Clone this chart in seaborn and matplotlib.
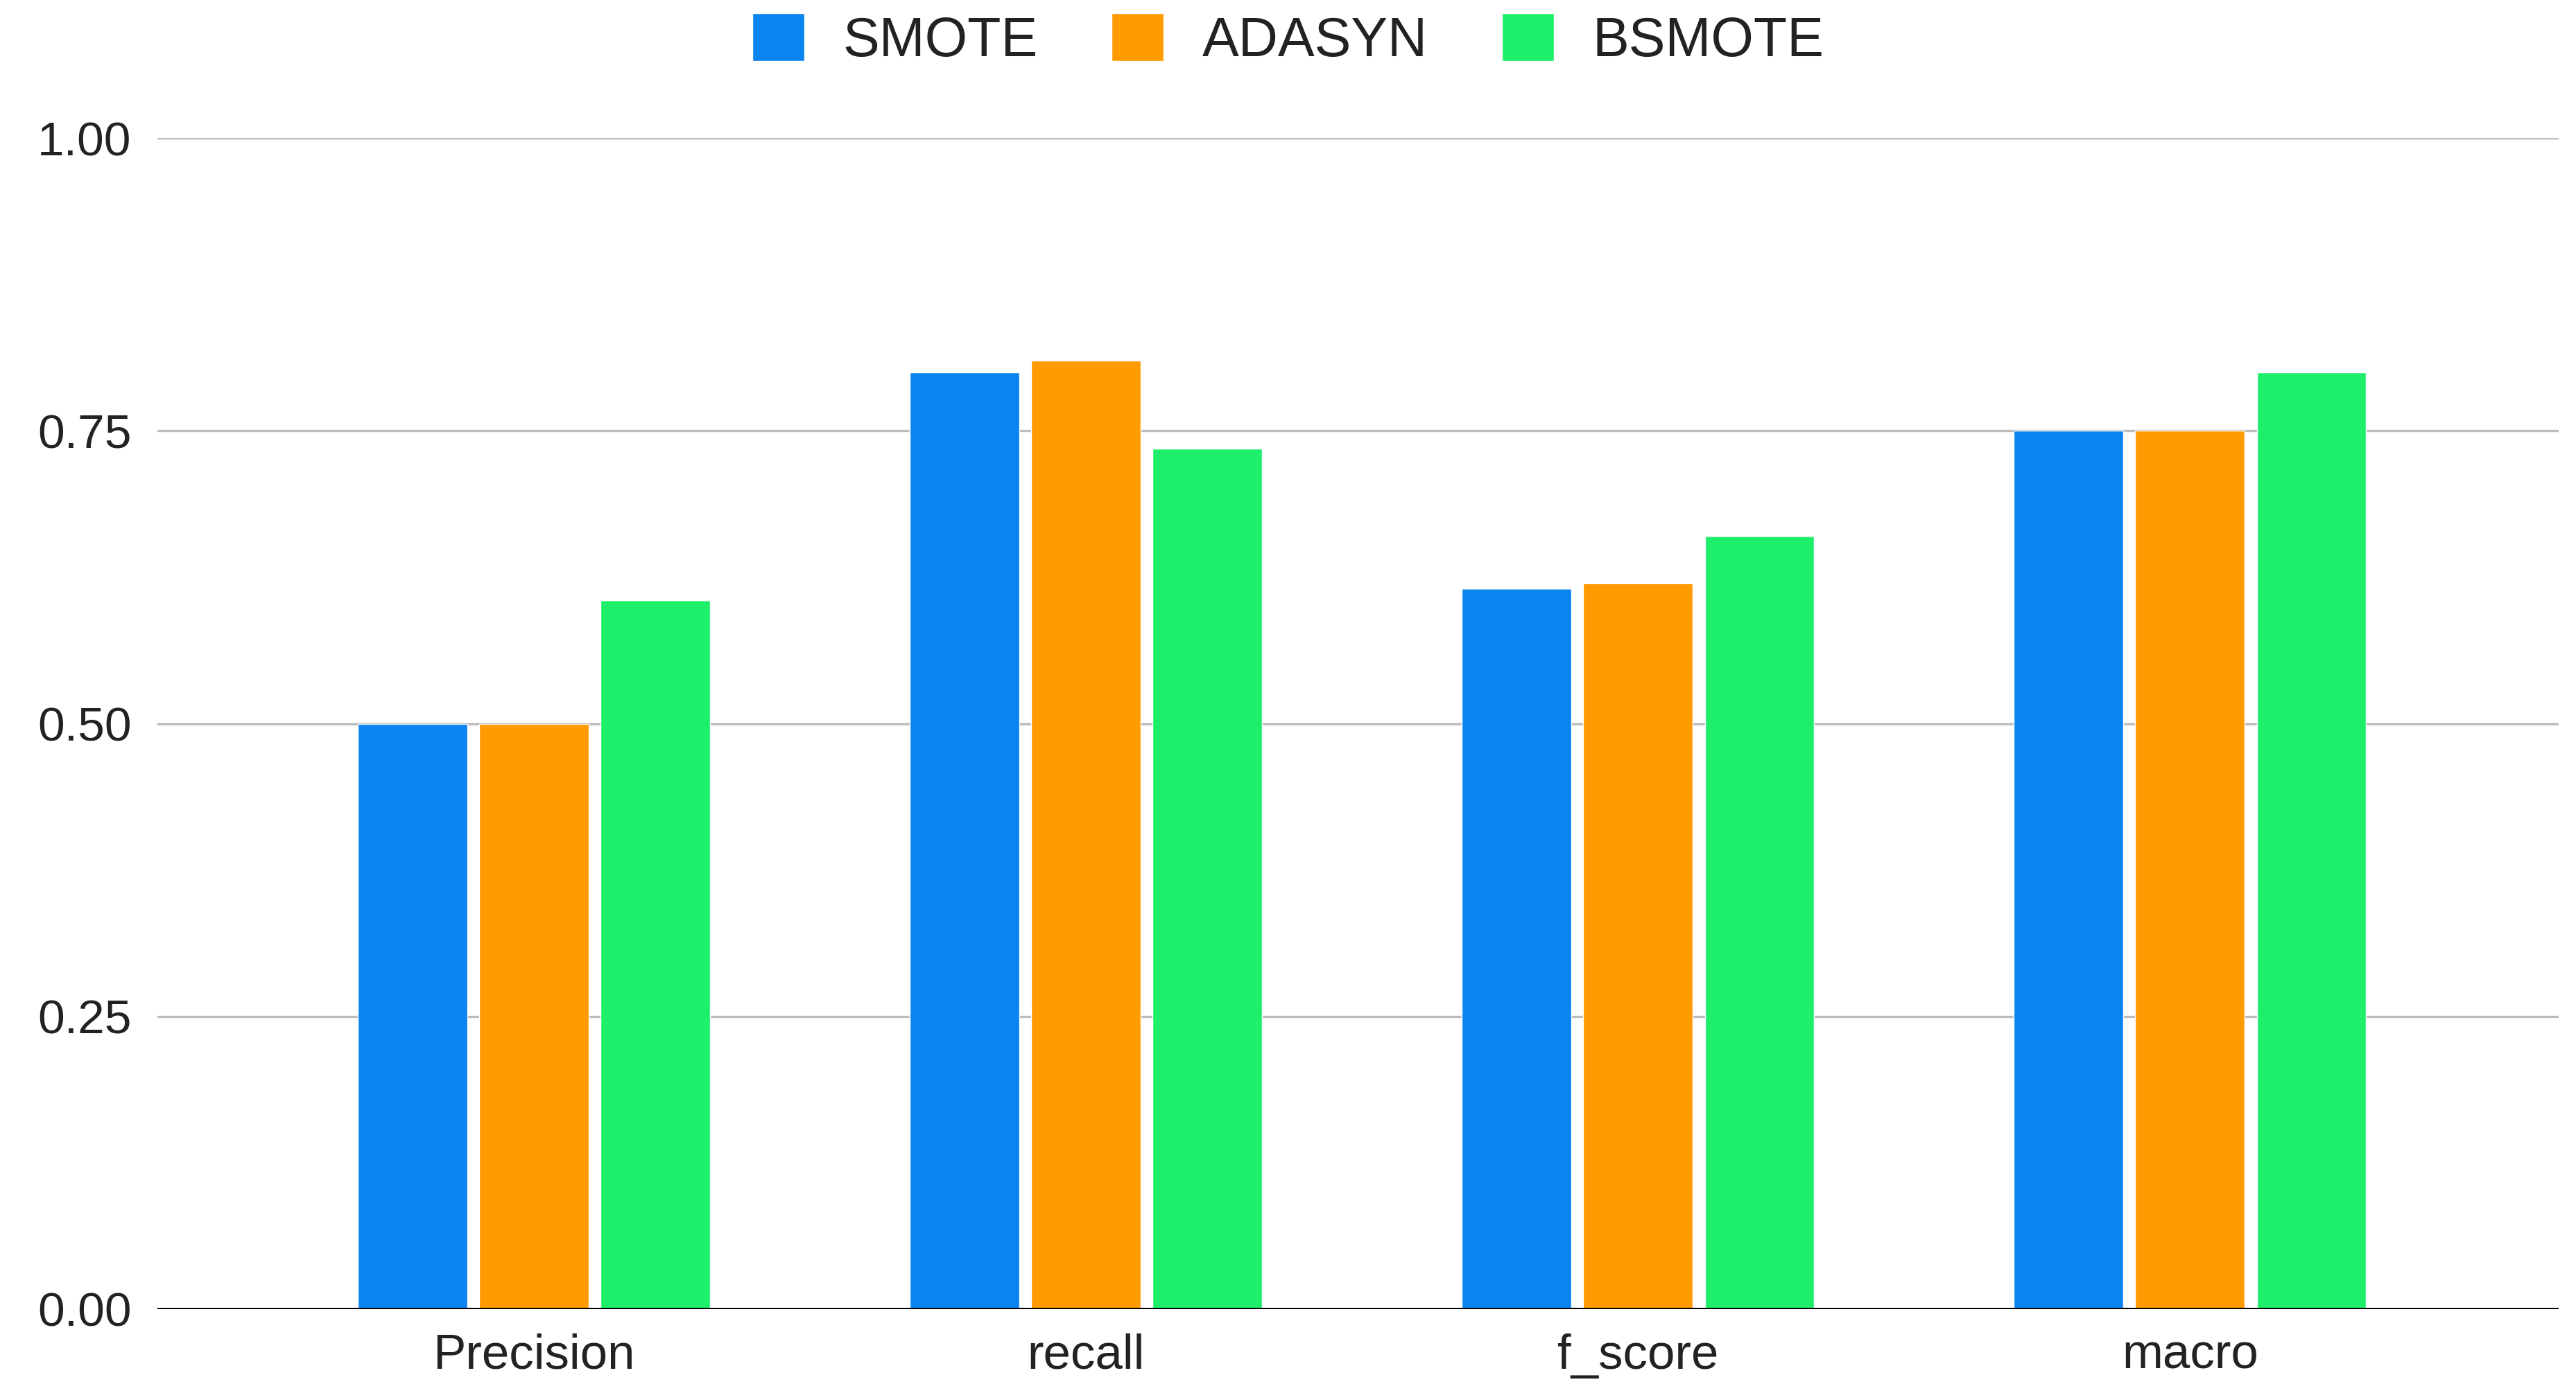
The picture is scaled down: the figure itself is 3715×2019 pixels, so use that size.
import numpy as np
import pandas as pd
import matplotlib
matplotlib.use("Agg")
import matplotlib.pyplot as plt
import seaborn as sns

# values
metrics = ["Precision", "recall", "f_score", "macro"]
methods = ["SMOTE", "ADASYN", "BSMOTE"]
smote = [0.50, 0.80, 0.615, 0.75]
adasyn = [0.50, 0.81, 0.62, 0.75]
bsmote = [0.605, 0.735, 0.66, 0.80]
colors = ["#0A84EE", "#FF9A00", "#1EEF6A"]
yticks = [0.00, 0.25, 0.50, 0.75, 1.00]

df = pd.DataFrame({
    "metric": metrics * 3,
    "method": np.repeat(methods, len(metrics)),
    "score": smote + adasyn + bsmote,
})


def main():
    sns.set_theme(style="white")
    plt.rcParams["font.family"] = ["Liberation Sans", "DejaVu Sans"]

    fig = plt.figure(figsize=(37.15, 20.19), dpi=100)
    ax = fig.add_axes([0.0611, 0.0649, 0.9322, 0.8365])

    sns.barplot(
        data=df,
        x="metric",
        y="score",
        hue="method",
        hue_order=methods,
        order=metrics,
        palette=colors,
        width=0.66,
        gap=0.1,
        saturation=1,
        legend=True,
        ax=ax,
        zorder=3,
    )

    ax.set_xlim(-0.682, 3.668)
    ax.set_ylim(0, 1.0)
    ax.set_yticks(yticks)
    ax.set_yticklabels([f"{v:.2f}" for v in yticks])
    ax.yaxis.grid(True, color="#bcbcbc", linewidth=2.4, zorder=0)
    ax.xaxis.grid(False)
    ax.axhline(0, color="black", linewidth=3.6, zorder=4)
    for s in ax.spines.values():
        s.set_visible(False)

    ax.set_xlabel("")
    ax.set_ylabel("")
    ax.tick_params(axis="y", length=0, pad=27, labelsize=50, labelcolor="#222222")
    ax.tick_params(axis="x", length=0, pad=25, labelsize=51, labelcolor="#222222")

    ax.legend_.remove()
    handles, labels = ax.get_legend_handles_labels()
    fig.legend(
        handles[:3], labels[:3],
        loc="center", bbox_to_anchor=(0.5, 0.971),
        ncol=3, frameon=False, fontsize=57,
        handlelength=0.95, handleheight=0.95,
        handletextpad=0.7, columnspacing=1.35,
        labelcolor="#222222",
    )

    fig.savefig("out.png", dpi=100)
    plt.close(fig)


if __name__ == "__main__":
    main()
